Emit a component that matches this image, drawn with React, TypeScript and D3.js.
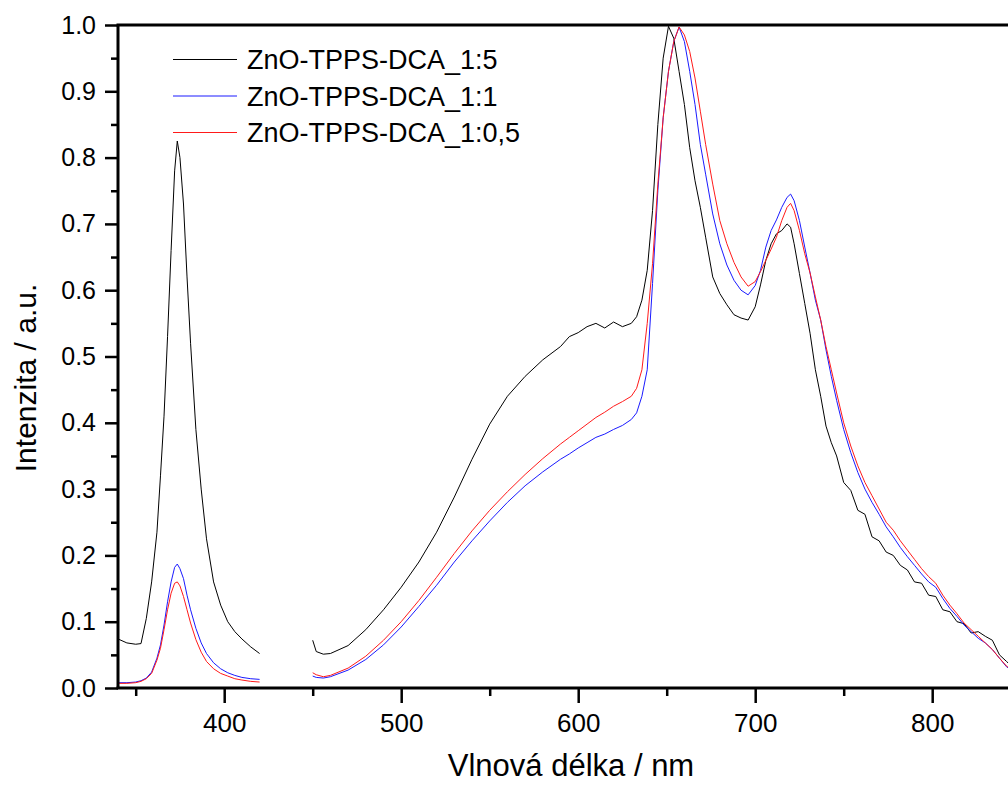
import React, { useEffect, useRef } from "react";
import * as d3 from "d3";

// UV band (ZnO emission), measured 340–420 nm
const uvWavelengths = [340, 345, 350, 353, 356, 359, 362, 364, 366, 368, 370, 372, 373.5, 375, 377, 379, 381, 384, 387, 390, 394, 398, 402, 406, 410, 415, 420];
const uvBlack = [0.074, 0.068, 0.066, 0.067, 0.105, 0.16, 0.235, 0.32, 0.41, 0.53, 0.66, 0.78, 0.825, 0.8, 0.73, 0.62, 0.52, 0.39, 0.3, 0.225, 0.16, 0.125, 0.1, 0.085, 0.074, 0.062, 0.052];
const uvBlue = [0.008, 0.008, 0.009, 0.011, 0.015, 0.024, 0.045, 0.065, 0.095, 0.13, 0.16, 0.182, 0.187, 0.18, 0.165, 0.14, 0.118, 0.09, 0.068, 0.052, 0.038, 0.029, 0.023, 0.019, 0.016, 0.014, 0.013];
const uvRed = [0.007, 0.007, 0.008, 0.01, 0.014, 0.022, 0.042, 0.06, 0.088, 0.118, 0.143, 0.158, 0.16, 0.154, 0.138, 0.118, 0.098, 0.073, 0.054, 0.04, 0.029, 0.022, 0.018, 0.014, 0.012, 0.01, 0.009];

// visible band (porphyrin emission), measured 450–850 nm
const visWavelengths = [450, 452, 456, 460, 470, 480, 490, 500, 510, 520, 530, 540, 550, 560, 570, 580, 590, 595, 600, 605, 610, 615, 620, 625, 630, 633, 636, 639, 642, 645, 648, 651, 654, 657, 660, 663, 666, 669, 672, 676, 680, 684, 688, 692, 696, 700, 703, 706, 709, 712, 715, 718, 720, 722, 725, 728, 731, 734, 737, 740, 743, 746, 750, 754, 758, 762, 766, 770, 774, 778, 782, 786, 790, 794, 798, 802, 806, 810, 814, 818, 822, 826, 830, 834, 838, 842, 846, 850];
const visBlack = [0.072, 0.055, 0.051, 0.052, 0.064, 0.088, 0.118, 0.152, 0.19, 0.235, 0.288, 0.345, 0.398, 0.44, 0.47, 0.495, 0.515, 0.53, 0.536, 0.545, 0.55, 0.543, 0.552, 0.545, 0.55, 0.56, 0.585, 0.63, 0.72, 0.85, 0.95, 0.998, 0.98, 0.93, 0.88, 0.815, 0.765, 0.725, 0.68, 0.62, 0.595, 0.578, 0.563, 0.558, 0.555, 0.575, 0.608, 0.645, 0.67, 0.685, 0.69, 0.7, 0.695, 0.67, 0.625, 0.58, 0.535, 0.48, 0.44, 0.395, 0.37, 0.35, 0.31, 0.298, 0.268, 0.262, 0.228, 0.222, 0.205, 0.2, 0.185, 0.178, 0.16, 0.158, 0.14, 0.138, 0.118, 0.115, 0.1, 0.097, 0.083, 0.085, 0.078, 0.072, 0.05, 0.04, 0.03, 0.02];
const visBlue = [0.018, 0.016, 0.015, 0.017, 0.027, 0.043, 0.065, 0.092, 0.123, 0.155, 0.19, 0.222, 0.252, 0.28, 0.305, 0.326, 0.345, 0.353, 0.362, 0.37, 0.378, 0.383, 0.39, 0.396, 0.405, 0.415, 0.44, 0.48, 0.61, 0.75, 0.86, 0.93, 0.975, 0.997, 0.975, 0.93, 0.88, 0.82, 0.775, 0.715, 0.67, 0.638, 0.615, 0.6, 0.593, 0.607, 0.63, 0.665, 0.69, 0.706, 0.725, 0.74, 0.745, 0.735, 0.705, 0.665, 0.626, 0.585, 0.555, 0.51, 0.47, 0.434, 0.39, 0.355, 0.325, 0.3, 0.28, 0.262, 0.243, 0.228, 0.212, 0.198, 0.185, 0.172, 0.16, 0.152, 0.135, 0.12, 0.108, 0.095, 0.085, 0.075, 0.068, 0.058, 0.045, 0.032, 0.025, 0.018];
const visRed = [0.023, 0.02, 0.017, 0.019, 0.03, 0.048, 0.072, 0.1, 0.132, 0.167, 0.203, 0.237, 0.268, 0.296, 0.322, 0.346, 0.368, 0.378, 0.388, 0.398, 0.408, 0.416, 0.425, 0.432, 0.44, 0.452, 0.48, 0.55, 0.64, 0.76, 0.86, 0.93, 0.975, 0.997, 0.985, 0.96, 0.92, 0.87, 0.82, 0.76, 0.705, 0.67, 0.642, 0.62, 0.606, 0.613, 0.628, 0.645, 0.662, 0.68, 0.705, 0.725, 0.731, 0.72, 0.69, 0.655, 0.626, 0.59, 0.555, 0.515, 0.48, 0.445, 0.4, 0.365, 0.335, 0.31, 0.29, 0.27, 0.25, 0.238, 0.222, 0.208, 0.194, 0.18, 0.168, 0.158, 0.14, 0.125, 0.112, 0.098, 0.088, 0.078, 0.068, 0.058, 0.045, 0.033, 0.025, 0.018];

const seriesNames = ["ZnO-TPPS-DCA_1:5", "ZnO-TPPS-DCA_1:1", "ZnO-TPPS-DCA_1:0,5"];
const seriesColors = ["#000000", "#1a1aff", "#ff1a1a"];
const xMajorTicks = [400, 500, 600, 700, 800];
const xMinorTicks = [350, 450, 550, 650, 750, 850];
const yMajorTicks = [0, 0.1, 0.2, 0.3, 0.4, 0.5, 0.6, 0.7, 0.8, 0.9, 1.0];
const yMinorTicks = [0.05, 0.15, 0.25, 0.35, 0.45, 0.55, 0.65, 0.75, 0.85, 0.95];

const W = 1008;
const H = 785;

const Chart = () => {
    const ref = useRef(null);

    useEffect(() => {
        const svg = d3.select(ref.current);
        svg.selectAll("*").remove();

        const margin = { top: 25, left: 118, bottom: 688 };
        const xScale = d3.scaleLinear().domain([340, 850]).range([118, 118 + 510 * 1.77]);
        const yScale = d3.scaleLinear().domain([0, 1]).range([688, 25]);
        const font = "'Liberation Sans', Arial, sans-serif";

        svg.append("clipPath").attr("id", "plot-clip")
            .append("rect")
            .attr("x", margin.left).attr("y", margin.top)
            .attr("width", W).attr("height", margin.bottom - margin.top);

        const uvSets = [uvBlack, uvBlue, uvRed];
        const visSets = [visBlack, visBlue, visRed];

        const line = d3.line()
            .x(d => xScale(d[0]))
            .y(d => yScale(d[1]));

        const curves = svg.append("g").attr("clip-path", "url(#plot-clip)");
        // black first, then blue, red on top
        seriesNames.forEach((name, i) => {
            const uv = uvWavelengths.map((w, j) => [w, uvSets[i][j]]);
            const vis = visWavelengths.map((w, j) => [w, visSets[i][j]]);
            [uv, vis].forEach(seg => {
                curves.append("path")
                    .datum(seg)
                    .attr("d", line)
                    .attr("fill", "none")
                    .attr("stroke", seriesColors[i])
                    .attr("stroke-width", 1);
            });
        });

        // bottom axis
        const xAxis = svg.append("g")
            .attr("transform", `translate(0, ${yScale(0)})`)
            .call(d3.axisBottom(xScale).tickValues(xMajorTicks).tickSize(15).tickPadding(4).tickFormat(d3.format("d")));
        xAxis.select(".domain").remove();
        xAxis.selectAll("line").attr("stroke", "#000").attr("stroke-width", 2.5);
        xAxis.selectAll("text")
            .attr("fill", "#000")
            .attr("font-family", font)
            .attr("font-size", 26)
            .attr("dy", "0.95em");
        const xMinor = svg.append("g")
            .attr("transform", `translate(0, ${yScale(0)})`)
            .call(d3.axisBottom(xScale).tickValues(xMinorTicks).tickSize(8).tickFormat(() => ""));
        xMinor.select(".domain").remove();
        xMinor.selectAll("line").attr("stroke", "#000").attr("stroke-width", 2.5);

        // left axis
        const yAxis = svg.append("g")
            .attr("transform", `translate(${xScale(340)}, 0)`)
            .call(d3.axisLeft(yScale).tickValues(yMajorTicks).tickSize(13).tickPadding(9).tickFormat(d3.format(".1f")));
        yAxis.select(".domain").remove();
        yAxis.selectAll("line").attr("stroke", "#000").attr("stroke-width", 2.5);
        yAxis.selectAll("text")
            .attr("fill", "#000")
            .attr("font-family", font)
            .attr("font-size", 25);
        const yMinor = svg.append("g")
            .attr("transform", `translate(${xScale(340)}, 0)`)
            .call(d3.axisLeft(yScale).tickValues(yMinorTicks).tickSize(7).tickFormat(() => ""));
        yMinor.select(".domain").remove();
        yMinor.selectAll("line").attr("stroke", "#000").attr("stroke-width", 2.5);

        // frame lines
        const frame = svg.append("g").attr("stroke", "#000").attr("stroke-width", 3);
        frame.append("line").attr("x1", xScale(340) - 1.5).attr("x2", W).attr("y1", yScale(0)).attr("y2", yScale(0));
        frame.append("line").attr("x1", xScale(340) - 1.5).attr("x2", W).attr("y1", yScale(1)).attr("y2", yScale(1));
        frame.append("line").attr("x1", xScale(340)).attr("x2", xScale(340)).attr("y1", yScale(1)).attr("y2", yScale(0));

        // axis titles
        svg.append("text")
            .attr("x", 571).attr("y", 776)
            .attr("text-anchor", "middle")
            .attr("font-family", font)
            .attr("font-size", 31)
            .text("Vlnová délka / nm");
        svg.append("text")
            .attr("transform", "translate(36, 378) rotate(-90)")
            .attr("text-anchor", "middle")
            .attr("font-family", font)
            .attr("font-size", 30)
            .text("Intenzita / a.u.");

        // legend
        const legend = svg.append("g");
        seriesNames.forEach((name, i) => {
            const y = 59.5 + i * 36.5;
            legend.append("line")
                .attr("x1", 173).attr("x2", 237)
                .attr("y1", y).attr("y2", y)
                .attr("stroke", seriesColors[i]).attr("stroke-width", 1);
            legend.append("text")
                .attr("x", 247).attr("y", y + 9.5)
                .attr("font-family", font)
                .attr("font-size", 27)
                .text(name);
        });
    }, []);

    return (
        <svg ref={ref} width={W} height={H} style={{ position: "absolute", left: 0, top: 0, background: "#fff" }} />
    );
};

export default function App() {
    return <Chart />;
}
